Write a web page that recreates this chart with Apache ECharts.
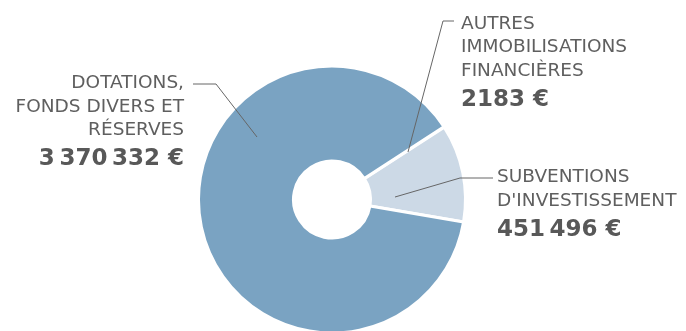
<!DOCTYPE html>
<html>
<head>
<meta charset="utf-8">
<script src="https://cdn.jsdelivr.net/npm/echarts@6.0.0/dist/echarts.min.js"></script>
<style>
  html, body { margin: 0; padding: 0; background: #fff; }
  #chart { width: 686px; height: 331px; }
</style>
</head>
<body>
<div id="chart"></div>
<script>
// Funding sources (order = clockwise from startAngle)
const categories = [
  'AUTRES\nIMMOBILISATIONS\nFINANCIÈRES',
  'SUBVENTIONS\nD\'INVESTISSEMENT',
  'DOTATIONS,\nFONDS DIVERS ET\nRÉSERVES'
];
const values = [2183, 451496, 3370332];

const sliceColors = ['#ccd9e6', '#ccd9e6', '#7aa3c2'];

// Label placement (text anchor + leader line polyline) per slice
const labelPlacement = [
  { x: 461, y: 12, align: 'left', line: [[408, 152], [443, 21], [454, 21]] },
  { x: 497, y: 165.5, align: 'left', line: [[395, 197], [460, 178], [493, 178]] },
  { x: 184, y: 71.5, align: 'right', line: [[257, 137], [216, 84], [193, 84]] }
];

// French grouping: thin space for numbers of 5+ digits
function formatEuro(v) {
  const s = String(v);
  const grouped = s.length >= 5 ? s.replace(/\B(?=(\d{3})+(?!\d))/g, '\u2009') : s;
  return grouped + ' €';
}

const chart = echarts.init(document.getElementById('chart'), null, { renderer: 'canvas' });

chart.setOption({
  animation: false,
  // leader lines drawn above the sectors
  graphic: labelPlacement.map(p => ({
    type: 'polyline',
    z: 100,
    silent: true,
    shape: { points: p.line },
    style: { stroke: '#666666', lineWidth: 1, fill: null }
  })),
  series: [{
    type: 'pie',
    center: [332, 199.5],
    radius: [38.5, 133.5],
    startAngle: 33,
    clockwise: true,
    avoidLabelOverlap: false,
    silent: true,
    data: categories.map((name, i) => ({
      name: name,
      value: values[i],
      itemStyle: { color: sliceColors[i] }
    })),
    itemStyle: { borderColor: '#ffffff', borderWidth: 3 },
    label: {
      show: true,
      position: 'outside',
      fontFamily: 'DejaVu Sans',
      formatter: function (p) {
        const lines = p.name.split('\n').map(s => '{n|' + s + '}');
        return lines.join('\n') + '\n{v|' + formatEuro(p.value) + '}';
      },
      rich: {
        n: { fontFamily: 'DejaVu Sans', fontSize: 18.5, color: '#5f5f5f', lineHeight: 23.5 },
        v: { fontFamily: 'DejaVu Sans', fontSize: 23, fontWeight: 'bold', color: '#585858', lineHeight: 35 }
      }
    },
    labelLine: { show: false },
    labelLayout: function (params) {
      const p = labelPlacement[params.dataIndex];
      return {
        x: p.x,
        y: p.y,
        align: p.align,
        verticalAlign: 'top'
      };
    }
  }]
});
</script>
</body>
</html>
